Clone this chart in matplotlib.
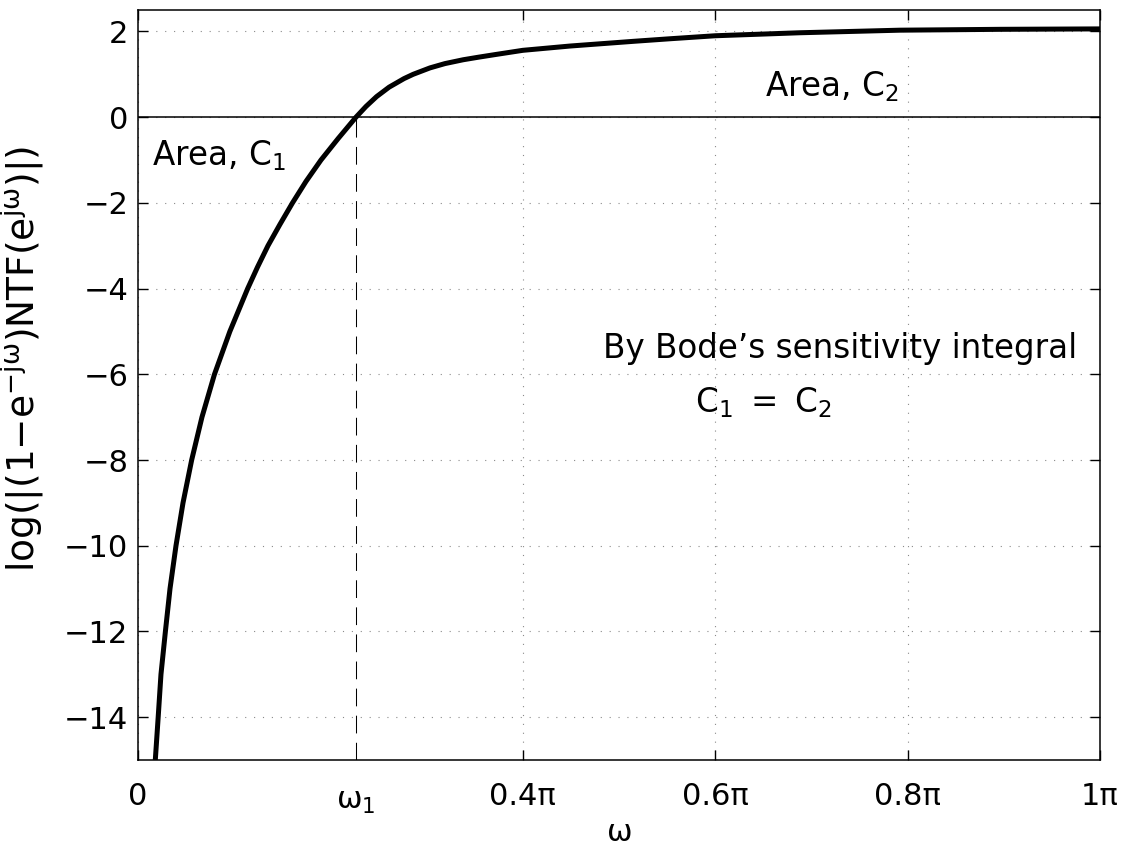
import numpy as np
import matplotlib
matplotlib.use("Agg")
import matplotlib.pyplot as plt

# ---- data (omega in units of pi, value of log|(1-e^{-jw})NTF(e^{jw})|) ----
omega_over_pi = [0.0180, 0.0210, 0.0239, 0.0285, 0.0333, 0.0395, 0.0468, 0.0558,
                 0.0665, 0.0795, 0.0955, 0.1140, 0.1242, 0.1351, 0.1476, 0.1606,
                 0.1746, 0.1902, 0.2080, 0.2266, 0.2370, 0.2480, 0.2610, 0.2765,
                 0.2860, 0.3035, 0.3190, 0.3380, 0.3540, 0.3710, 0.4000, 0.4490,
                 0.5150, 0.5530, 0.6000, 0.6880, 0.7400, 0.7920, 0.8960, 1.0000]
log_values = [-15.0, -14.0, -13.0, -12.0, -11.0, -10.0, -9.0, -8.0,
              -7.0, -6.0, -5.0, -4.0, -3.5, -3.0, -2.5, -2.0,
              -1.5, -1.0, -0.5, 0.0, 0.25, 0.48, 0.70, 0.90,
              1.00, 1.15, 1.25, 1.34, 1.40, 1.46, 1.56, 1.66,
              1.77, 1.83, 1.90, 1.97, 2.00, 2.03, 2.05, 2.06]
omega1_over_pi = 0.2266

xtick_over_pi = [0, 0.4, 0.6, 0.8, 1.0]
xtick_labels = ["0", "0.4π", "0.6π", "0.8π", "1π"]
ytick_values = [-14, -12, -10, -8, -6, -4, -2, 0, 2]
ylims = (-15, 2.5)

plt.rcParams['font.family'] = ['DejaVu Sans']
plt.rcParams['mathtext.fontset'] = 'dejavusans'

fig = plt.figure(figsize=(11.46, 8.51), dpi=100)
ax = fig.add_axes([0.1204, 0.1069, 0.8395, 0.8813])

w = np.array(omega_over_pi) * np.pi
ax.plot(w, log_values, color='black', lw=3.6, solid_capstyle='butt',
        solid_joinstyle='round', zorder=4)
ax.axhline(0, color='black', lw=1.1, zorder=3)
w1 = omega1_over_pi * np.pi
ax.plot([w1, w1], [ylims[0], 0], color='black', lw=0.75, dashes=(17, 9), zorder=3)

ax.set_xlim(0, np.pi)
ax.set_ylim(*ylims)
ax.set_xticks(np.array(xtick_over_pi) * np.pi)
ax.set_xticklabels(xtick_labels)
ax.set_yticks(ytick_values)
ax.set_yticklabels([str(v).replace('-', '\u2212') for v in ytick_values])

ax.grid(True, color='#8a8a8a', lw=0.8, dashes=(1, 7))
ax.set_axisbelow(True)
for s in ax.spines.values():
    s.set_linewidth(1.1)
ax.tick_params(direction='in', length=7, width=1.0, top=True, right=True,
               labelsize=22)
ax.tick_params(axis='x', pad=16)
ax.tick_params(axis='y', pad=7)

ax.annotate(r'$\mathregular{\omega_1}$', xy=(w1, 0), xycoords=('data', 'axes fraction'),
            xytext=(0, -19.5), textcoords='offset points', ha='center', va='top',
            fontsize=22)

ax.set_xlabel(r'$\mathregular{\omega}$', fontsize=22, labelpad=5)
ax.set_ylabel(r'log(|(1$\mathregular{-}$e$^{\mathregular{-j\omega}}$)NTF(e$^{\mathregular{j\omega}}$)|)',
              fontsize=27, labelpad=2)
ax.yaxis.set_label_coords(-0.095, 0.535)

fs = 23.5
ax.text(0.015 * np.pi, -1.12, r'Area, $\mathregular{C_1}$', fontsize=fs, va='baseline', ha='left')
ax.text(0.652 * np.pi, 0.48, r'Area, $\mathregular{C_2}$', fontsize=fs, va='baseline', ha='left')
ax.text(0.4834 * np.pi, -5.61, 'By Bode\u2019s sensitivity integral', fontsize=fs, va='baseline', ha='left')
ax.text(0.579 * np.pi, -6.89, r'$\mathregular{C_1\ =\ C_2}$', fontsize=fs, va='baseline', ha='left')

fig.savefig('out.png', dpi=100)
